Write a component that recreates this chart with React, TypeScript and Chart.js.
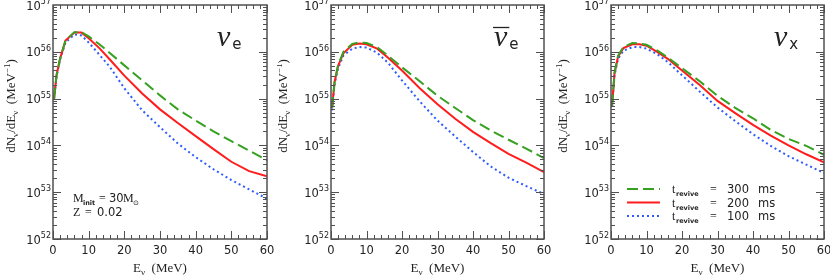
import React, { useEffect, useRef } from "react";
import { Chart, registerables } from "chart.js";
Chart.register(...registerables);

// Neutrino energy grid (MeV)
const energies = [0.3, 1, 2, 3.5, 6, 8, 10, 13, 16, 20, 25, 30, 35, 40, 45, 50, 55, 60];

// nu_e spectra dN/dE (MeV^-1)
const nueT300 = [1.0e55, 3.16e55, 7.24e55, 1.74e56, 2.63e56, 2.63e56, 2.14e56, 1.45e56, 9.33e55, 5.13e55, 2.45e55, 1.17e55, 5.89e54, 3.39e54, 2.0e54, 1.23e54, 7.76e53, 4.79e53];
const nueT200 = [1.0e55, 3.16e55, 7.24e55, 1.74e56, 2.57e56, 2.57e56, 1.95e56, 1.2e56, 6.76e55, 3.09e55, 1.29e55, 5.89e54, 3.02e54, 1.58e54, 8.32e53, 4.47e53, 2.82e53, 2.19e53];
const nueT100 = [1.0e55, 3.02e55, 6.92e55, 1.58e56, 2.34e56, 2.24e56, 1.58e56, 8.71e55, 4.68e55, 1.66e55, 5.62e54, 2.45e54, 1.1e54, 5.62e53, 3.09e53, 1.82e53, 1.15e53, 7.24e52];

// anti nu_e spectra
const anueT300 = [6.31e54, 2.24e55, 5.25e55, 1.0e56, 1.48e56, 1.58e56, 1.55e56, 1.26e56, 8.32e55, 4.68e55, 2.34e55, 1.15e55, 6.31e54, 3.47e54, 2.09e54, 1.32e54, 8.51e53, 5.37e53];
const anueT200 = [6.31e54, 2.24e55, 5.01e55, 9.33e55, 1.41e56, 1.51e56, 1.45e56, 1.17e56, 7.59e55, 3.98e55, 1.66e55, 7.59e54, 3.72e54, 1.95e54, 1.12e54, 6.61e53, 4.27e53, 2.69e53];
const anueT100 = [5.62e54, 2.0e55, 4.47e55, 8.32e55, 1.17e56, 1.26e56, 1.23e56, 9.55e55, 5.89e55, 2.45e55, 8.71e54, 3.39e54, 1.55e54, 7.24e53, 3.55e53, 2.04e53, 1.35e53, 9.12e52];

// nu_x spectra
const nuxT300 = [7.08e54, 3.55e55, 8.32e55, 1.26e56, 1.55e56, 1.51e56, 1.41e56, 1.07e56, 7.59e55, 4.47e55, 2.34e55, 1.15e55, 6.31e54, 3.8e54, 2.14e54, 1.38e54, 9.77e53, 6.31e53];
const nuxT200 = [7.08e54, 3.55e55, 7.94e55, 1.2e56, 1.45e56, 1.45e56, 1.35e56, 1.0e56, 7.08e55, 3.98e55, 1.95e55, 8.91e54, 4.9e54, 2.75e54, 1.62e54, 1.0e54, 6.46e53, 4.37e53];
const nuxT100 = [6.61e54, 3.16e55, 7.08e55, 1.05e56, 1.26e56, 1.26e56, 1.17e56, 8.91e55, 6.03e55, 3.16e55, 1.41e55, 6.46e54, 3.31e54, 1.74e54, 9.77e53, 5.89e53, 3.89e53, 2.57e53];

const xTicks = [0, 10, 20, 30, 40, 50, 60];
const yExponents = [52, 53, 54, 55, 56, 57];
const legendLabels = ["300", "200", "100"];

const SERIF = '"Liberation Serif", "DejaVu Serif", serif';
const SANS = '"DejaVu Sans", "Liberation Sans", sans-serif';
const FRAME = "#505050";
const GREEN = "#36a020";
const RED = "#ff1c1c";
const BLUE = "#2e5cff";
const styles = [
  { color: GREEN, dash: [11, 5], width: 2 },
  { color: RED, dash: [], width: 2 },
  { color: BLUE, dash: [2, 3], width: 2 },
];

type PanelDef = {
  left: number;
  width: number;
  padL: number;
  padR: number;
  sub: string;
  bar: boolean;
  series: number[][];
  yTitleX: number;
  extra: "mass" | "legend" | null;
};

const panels: PanelDef[] = [
  { left: 0, width: 277, padL: 53, padR: 10, sub: "e", bar: false, series: [nueT300, nueT200, nueT100], yTitleX: 15, extra: "mass" },
  { left: 277, width: 277, padL: 54, padR: 10, sub: "e", bar: true, series: [anueT300, anueT200, anueT100], yTitleX: 10, extra: null },
  { left: 554, width: 276, padL: 57, padR: 6, sub: "x", bar: false, series: [nuxT300, nuxT200, nuxT100], yTitleX: 13, extra: "legend" },
];

function txt(ctx: CanvasRenderingContext2D, s: string, x: number, y: number, font: string, align: CanvasTextAlign = "left") {
  ctx.font = font;
  ctx.textAlign = align;
  ctx.textBaseline = "alphabetic";
  ctx.fillText(s, x, y);
  return ctx.measureText(s).width;
}

function makeDecor(p: PanelDef) {
  return {
    id: "decor",
    afterDraw(chart: any) {
      const ctx: CanvasRenderingContext2D = chart.ctx;
      const a = chart.chartArea;
      const xs = chart.scales.x;
      const ys = chart.scales.y;
      ctx.save();
      ctx.strokeStyle = FRAME;
      ctx.fillStyle = "#111";
      // frame
      ctx.lineWidth = 1.5;
      ctx.setLineDash([]);
      ctx.strokeRect(a.left, a.top, a.right - a.left, a.bottom - a.top);
      // x ticks
      ctx.lineWidth = 1;
      for (let v = 0; v <= 60; v += 2) {
        const px = Math.round(xs.getPixelForValue(v)) + 0.5;
        const len = v % 10 === 0 ? 8 : 4;
        ctx.beginPath();
        ctx.moveTo(px, a.bottom);
        ctx.lineTo(px, a.bottom - len);
        ctx.moveTo(px, a.top);
        ctx.lineTo(px, a.top + len);
        ctx.stroke();
      }
      // y ticks
      for (let e = 52; e < 57; e++) {
        for (let m = 1; m <= 9; m++) {
          const py = Math.round(ys.getPixelForValue(m * Math.pow(10, e))) + 0.5;
          const len = m === 1 ? 8 : 4;
          ctx.beginPath();
          ctx.moveTo(a.left, py);
          ctx.lineTo(a.left + len, py);
          ctx.moveTo(a.right, py);
          ctx.lineTo(a.right - len, py);
          ctx.stroke();
        }
      }
      // x tick labels
      ctx.fillStyle = "#222";
      xTicks.forEach((v) => {
        txt(ctx, String(v), xs.getPixelForValue(v), 254, `11.5px ${SANS}`, "center");
      });
      // y tick labels
      yExponents.forEach((e) => {
        const py = ys.getPixelForValue(Math.pow(10, e));
        const w = txt(ctx, String(e), a.left - 2, py - 1, `8px ${SANS}`, "right");
        txt(ctx, "10", a.left - 2 - w, py + 4.5, `11.5px ${SANS}`, "right");
      });
      // x title
      const cx = (a.left + a.right) / 2;
      ctx.font = `13px ${SERIF}`;
      const w1 = ctx.measureText("E").width;
      ctx.font = `9px ${SERIF}`;
      const w2 = ctx.measureText("ν").width;
      ctx.font = `13px ${SERIF}`;
      const w3 = ctx.measureText("  (MeV)").width;
      let sx = cx - (w1 + w2 + w3) / 2;
      sx += txt(ctx, "E", sx, 272, `13px ${SERIF}`);
      sx += txt(ctx, "ν", sx, 275, `9px ${SERIF}`);
      txt(ctx, "  (MeV)", sx, 272, `13px ${SERIF}`);
      // y title rotated
      ctx.save();
      ctx.translate(p.yTitleX, 106);
      ctx.rotate(-Math.PI / 2);
      const parts: [string, string, number][] = [
        ["dN", `13px ${SERIF}`, 0],
        ["ν", `9px ${SERIF}`, 3],
        ["/dE", `13px ${SERIF}`, 0],
        ["ν", `9px ${SERIF}`, 3],
        ["  (MeV", `13px ${SERIF}`, 0],
        ["−1", `9px ${SERIF}`, -5],
        [")", `13px ${SERIF}`, 0],
      ];
      let tw = 0;
      parts.forEach(([s, f]) => {
        ctx.font = f;
        tw += ctx.measureText(s).width;
      });
      let tx = -tw / 2;
      parts.forEach(([s, f, dy]) => {
        tx += txt(ctx, s, tx, dy, f);
      });
      ctx.restore();
      // panel label
      const nx = a.right - 50;
      const nw = txt(ctx, "ν", nx, 46, `italic 30px ${SERIF}`);
      txt(ctx, p.sub, nx + nw + 2, 49, `15px ${SANS}`);
      if (p.bar) {
        ctx.lineWidth = 1.3;
        ctx.strokeStyle = "#222";
        ctx.beginPath();
        ctx.moveTo(nx - 1, 27.5);
        ctx.lineTo(nx + nw + 2, 27.5);
        ctx.stroke();
      }
      // extras
      if (p.extra === "mass") {
        const L = a.left;
        txt(ctx, "M", L + 20, 202, `12px ${SERIF}`);
        txt(ctx, "init", L + 30, 205, `bold 6.5px ${SANS}`);
        txt(ctx, "=", L + 46, 202, `12px ${SERIF}`);
        txt(ctx, "30", L + 56, 202, `11.5px ${SANS}`);
        txt(ctx, "M", L + 70, 202, `12px ${SERIF}`);
        txt(ctx, "⊙", L + 80, 205, `7px ${SANS}`);
        txt(ctx, "Z", L + 20, 216, `12px ${SERIF}`);
        txt(ctx, "=", L + 32, 216, `12px ${SERIF}`);
        txt(ctx, "0.02", L + 44, 216, `11.5px ${SANS}`);
      }
      if (p.extra === "legend") {
        const L = a.left;
        const rows = [193, 206.5, 220];
        rows.forEach((by, i) => {
          const st = styles[i];
          ctx.strokeStyle = st.color;
          ctx.lineWidth = st.width;
          ctx.setLineDash(st.dash);
          ctx.beginPath();
          ctx.moveTo(L + 16, by - 4);
          ctx.lineTo(L + 49, by - 4);
          ctx.stroke();
          ctx.setLineDash([]);
          ctx.fillStyle = "#222";
          txt(ctx, "t", L + 61, by, `12px ${SERIF}`);
          txt(ctx, "revive", L + 65, by + 3, `bold 6.5px ${SANS}`);
          txt(ctx, "=", L + 99, by, `12px ${SERIF}`);
          txt(ctx, legendLabels[i], L + 116, by, `11.5px ${SANS}`);
          txt(ctx, "ms", L + 147, by, `11.5px ${SANS}`);
        });
      }
      ctx.restore();
    },
  };
}

function Panel({ p }: { p: PanelDef }) {
  const ref = useRef<HTMLCanvasElement>(null);
  useEffect(() => {
    if (!ref.current) return;
    const datasets = p.series.map((s, i) => ({
      data: energies.map((e, j) => ({ x: e, y: s[j] })),
      borderColor: styles[i].color,
      borderWidth: styles[i].width,
      borderDash: styles[i].dash,
      pointRadius: 0,
      tension: 0,
      fill: false,
    }));
    const chart = new Chart(ref.current, {
      type: "line",
      data: { datasets },
      options: {
        responsive: false,
        animation: false,
        layout: { padding: { left: p.padL, right: p.padR, top: 5, bottom: 41 } },
        plugins: { legend: { display: false }, tooltip: { enabled: false } },
        scales: {
          x: { type: "linear", min: 0, max: 60, display: false },
          y: { type: "logarithmic", min: 1e52, max: 1e57, display: false },
        },
      },
      plugins: [makeDecor(p)],
    } as any);
    return () => chart.destroy();
  }, []);
  return (
    <canvas
      ref={ref}
      width={p.width}
      height={280}
      style={{ position: "absolute", left: p.left, top: 0, width: p.width, height: 280 }}
    />
  );
}

export default function App() {
  return (
    <div style={{ position: "fixed", left: 0, top: 0, width: 830, height: 280, background: "#fff" }}>
      {panels.map((p, i) => (
        <Panel key={i} p={p} />
      ))}
    </div>
  );
}
